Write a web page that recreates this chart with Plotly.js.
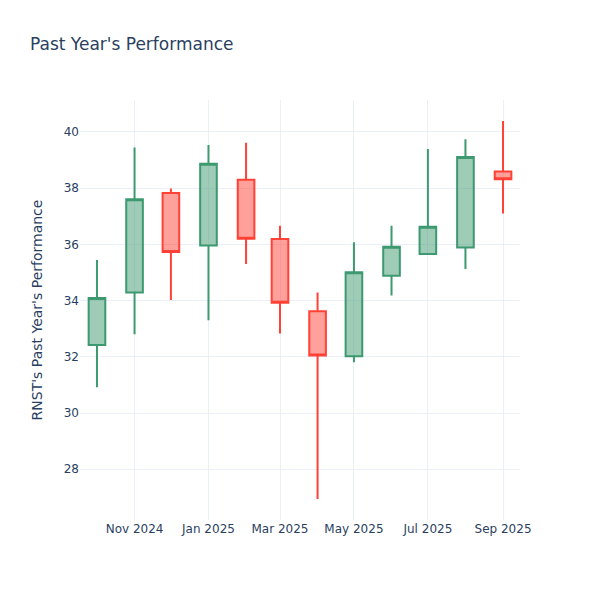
<!DOCTYPE html>
<html>
<head>
<meta charset="utf-8">
<script src="https://cdn.plot.ly/plotly-3.0.1.min.js"></script>
<style>html,body{margin:0;padding:0;background:#fff}#chart{width:600px;height:600px}</style>
</head>
<body>
<div id="chart"></div>
<script>
const dates = ["2024-10-01","2024-11-01","2024-12-01","2025-01-01","2025-02-01","2025-03-01","2025-04-01","2025-05-01","2025-06-01","2025-07-01","2025-08-01","2025-09-01"];
const openVals  = [32.42, 34.29, 37.83, 35.96, 38.30, 36.19, 33.62, 32.02, 34.88, 35.66, 35.89, 38.59];
const highVals  = [35.44, 39.45, 37.99, 39.54, 39.62, 36.66, 34.29, 36.08, 36.66, 39.39, 39.74, 40.39];
const lowVals   = [30.92, 32.80, 34.02, 33.30, 35.30, 32.83, 26.94, 31.81, 34.18, 35.65, 35.12, 37.10];
const closeVals = [34.09, 37.61, 35.73, 38.87, 36.20, 33.92, 32.05, 35.01, 35.92, 36.63, 39.11, 38.32];

const trace = {
  type: "candlestick",
  x: dates,
  open: openVals,
  high: highVals,
  low: lowVals,
  close: closeVals
};

const layout = {
  template: "plotly_white",
  width: 600,
  height: 600,
  paper_bgcolor: "#ffffff",
  plot_bgcolor: "#ffffff",
  font: {family: "DejaVu Sans, sans-serif", color: "#2a3f5f"},
  title: {text: "Past Year's Performance", x: 0.05, font: {size: 17, color: "#2a3f5f"}},
  margin: {l: 80, r: 80, t: 100, b: 80},
  showlegend: false,
  xaxis: {
    rangeslider: {visible: false},
    gridcolor: "#EBF0F8",
    zeroline: false,
    tickformat: "%b %Y",
    dtick: "M2",
    tick0: "2024-11-01"
  },
  yaxis: {
    title: {text: "RNST's Past Year's Performance"},
    gridcolor: "#EBF0F8",
    zeroline: false,
    dtick: 2
  }
};

Plotly.newPlot("chart", [trace], layout, {displayModeBar: false});
</script>
</body>
</html>
